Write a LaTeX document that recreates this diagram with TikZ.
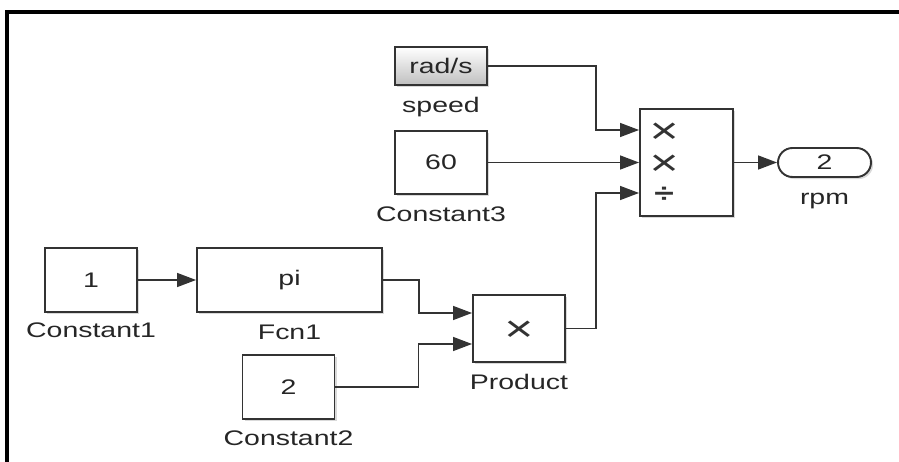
\documentclass[tikz,border=0pt]{standalone}
\usepackage{fontspec}
\setmainfont{Liberation Sans}[FakeStretch=1.35]
\usetikzlibrary{arrows.meta,shadows,calc}

\begin{document}
\begin{tikzpicture}[x=0.02cm,y=-0.02cm,line width=0.8pt,>={Triangle[length=3.8mm,width=2.8mm]},
  blk/.style={draw=black!80,line width=1.1pt,fill=white,rectangle,minimum width=1.84cm,inner sep=0pt,text=black!85,
    font=\fontsize{12}{14}\selectfont,drop shadow={shadow xshift=1.2pt,shadow yshift=-1.2pt,opacity=0.3}},
  lbl/.style={anchor=base,font=\fontsize{12}{14}\selectfont,inner sep=0pt,text=black!85},
  sym/.style={anchor=base,font=\fontsize{21}{21}\selectfont,inner sep=0pt,text=black!80},
  sig/.style={draw=black!80,->}]
  \useasboundingbox (0,0) rectangle (899,462);
  % marco (frame)
  \draw[line width=2.2pt] (7,462)--(7,12)--(899,12);
  % bloques superiores
  \node[blk,minimum height=0.76cm,top color=white,bottom color=black!25] (speed) at (441,66) {rad/s};
  \node[lbl] (speedlbl) at ([yshift=-0.54cm]speed.south) {speed};
  \node[blk,minimum height=1.26cm] (cte3) at (441,162.5) {60};
  \node[lbl] (cte3lbl) at ([yshift=-0.54cm]cte3.south) {Constant3};
  % producto/division
  \node[blk,minimum width=1.86cm,minimum height=2.14cm] (divide) at (686.5,162.5) {};
  \coordinate (din1) at ($(divide.west)+(0,-32.5)$);
  \coordinate (din2) at (divide.west);
  \coordinate (din3) at ($(divide.west)+(0,30.5)$);
  \node[sym] (dsym1) at ($(din1)+(25,14)$) {×};
  \node[sym] (dsym2) at ($(din2)+(25,13)$) {×};
  \node[sym,font=\fontsize{15}{15}\selectfont\bfseries] (dsym3) at ($(din3)+(25,9.5)$) {÷};
  % salida
  \node[blk,minimum width=1.86cm,minimum height=0.58cm,rounded corners=0.29cm,drop shadow={opacity=0}] (rpm) at (824.5,162.5) {2};
  \node[lbl] (rpmlbl) at ([yshift=-0.54cm]rpm.south) {rpm};
  % bloques inferiores
  \node[blk,minimum height=1.28cm] (cte1) at (91,280) {1};
  \node[lbl] (cte1lbl) at ([yshift=-0.5cm]cte1.south) {Constant1};
  \node[blk,minimum width=3.7cm,minimum height=1.28cm] (fcn) at (289.5,280) {pi};
  \node[lbl] (fcnlbl) at ([yshift=-0.54cm]fcn.south) {Fcn1};
  \node[blk,minimum height=1.28cm] (cte2) at (288.5,387) {2};
  \node[lbl] (cte2lbl) at ([yshift=-0.52cm]cte2.south) {Constant2};
  \node[blk,minimum height=1.34cm] (prod) at (519,328.5) {};
  \node[sym] (psym) at ($(prod)+(0,13)$) {×};
  \node[lbl] (prodlbl) at ([yshift=-0.54cm]prod.south) {Product};
  \coordinate (pin1) at ($(prod.west)+(0,-15.5)$);
  \coordinate (pin2) at ($(prod.west)+(0,15.5)$);
  % senales
  \draw[sig] (speed.east) -- ++(108,0) |- (din1);
  \draw[sig] (cte3.east) -- (din2);
  \draw[sig] (prod.east) -- ++(30,0) |- (din3);
  \draw[sig] (divide.east) -- (rpm.west);
  \draw[sig] (cte1.east) -- (fcn.west);
  \draw[sig] (fcn.east) -- ++(36,0) |- (pin1);
  \draw[sig] (cte2.east) -- ++(83,0) |- (pin2);
\end{tikzpicture}
\end{document}
